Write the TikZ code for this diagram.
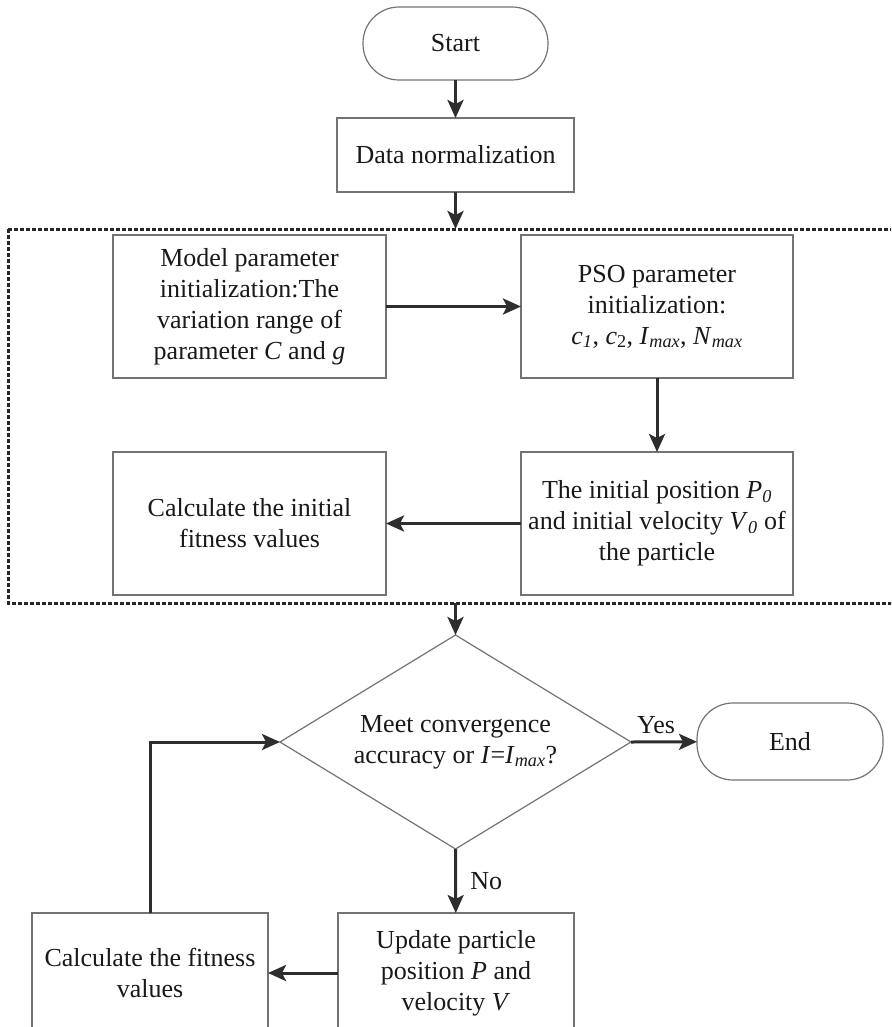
\documentclass[tikz,border=0pt]{standalone}
\usepackage{fontspec}
\setmainfont{Liberation Serif}
\usetikzlibrary{arrows.meta,shapes.geometric}

\newcommand{\isub}[2]{\textit{#1}\textsubscript{\textit{#2}}}

\tikzset{
    every node/.style={font=\fontsize{26}{31}\selectfont, text=black!90},
    procbox/.style={draw=black!55, line width=1.2pt, align=center, inner sep=0pt, outer sep=0pt},
    termbox/.style={procbox, rounded corners=36pt},
    decisionbox/.style={draw=black!55, line width=1.2pt, align=center, diamond, aspect=1.64, inner sep=0pt, outer sep=0pt},
    flowarrow/.style={line width=3pt, draw=black!82, -{Stealth[length=18pt,width=16pt,inset=4pt]}},
    groupbox/.style={line width=3pt, draw=black!85, dash pattern=on 4pt off 2pt}
}

\begin{document}
\begin{tikzpicture}[x=1pt,y=-1pt]
    \useasboundingbox (0,0) rectangle (891,1027);
    \clip (0,0) rectangle (891,1027);

    % terminals and steps
    \node[termbox, minimum width=185pt, minimum height=73pt] (start) at (455.5,43.5) {Start};
    \node[procbox, minimum width=237pt, minimum height=74pt] (norm) at (455.5,155) {Data normalization};

    \draw[groupbox] (8,229) rectangle (905,603);
    \node[procbox, minimum width=273pt, minimum height=143pt] (model) at (249.5,306.5)
        {Model parameter\\initialization:The\\variation range of\\parameter \textit{C} and \textit{g}};
    \node[procbox, minimum width=272pt, minimum height=143pt] (pso) at (657,306.5)
        {PSO parameter\\initialization:\\\isub{c}{1}, \textit{c}\textsubscript{2}, \isub{I}{max}, \isub{N}{max}};
    \node[procbox, minimum width=272pt, minimum height=143pt] (initpos) at (657,523.5)
        {The initial position \isub{P}{0}\\and initial velocity \isub{V}{0} of\\the particle};
    \node[procbox, minimum width=273pt, minimum height=143pt] (calcinit) at (249.5,523.5)
        {Calculate the initial\\fitness values};

    \node[decisionbox, minimum width=351pt, minimum height=214pt] (cond) at (455.5,742)
        {Meet convergence\\accuracy or \textit{I}=\isub{I}{max}?};
    \node[termbox, minimum width=186pt, minimum height=77pt] (end) at (790,741.5) {End};
    \node[procbox, minimum width=236pt, minimum height=120pt] (update) at (456,973)
        {Update particle\\position \textit{P} and\\velocity \textit{V}};
    \node[procbox, minimum width=236pt, minimum height=120pt] (calcfit) at (150,973)
        {Calculate the fitness\\values};

    \coordinate (grouptop) at (455.5,229);
    \coordinate (groupbot) at (455.5,603);

    % connectors
    \draw[flowarrow] (start) -- (norm);
    \draw[flowarrow] (norm) -- (grouptop);
    \draw[flowarrow] (model) -- (pso);
    \draw[flowarrow] (pso) -- (initpos);
    \draw[flowarrow] (initpos) -- (calcinit);
    \draw[flowarrow] (groupbot) -- (cond.north);
    \draw[flowarrow] (cond.east) -- (end) node[above,pos=0.38,yshift=3pt] {Yes};
    \draw[flowarrow] (cond.south) -- (update) node[right,pos=0.5,xshift=10pt] {No};
    \draw[flowarrow] (update) -- (calcfit);
    \draw[flowarrow] (calcfit.north) |- (cond.west);
\end{tikzpicture}
\end{document}
